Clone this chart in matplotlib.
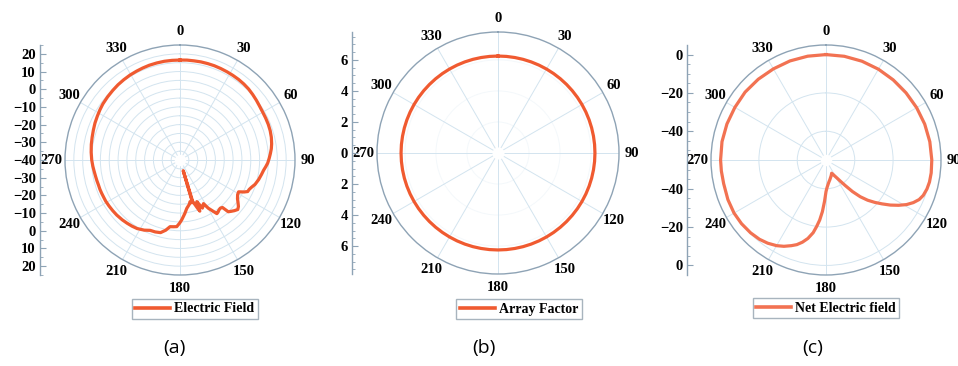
import numpy as np
import matplotlib
matplotlib.use("Agg")
import matplotlib.pyplot as plt
from matplotlib.lines import Line2D

plt.rcParams["font.family"] = ["Liberation Serif", "DejaVu Serif"]
plt.rcParams["font.weight"] = "bold"
plt.rcParams["axes.unicode_minus"] = True

# ---- data -------------------------------------------------------------
# (a) measured electric field pattern (dB)
angle_a = [0, 4, 8, 12, 16, 20, 24, 28, 32, 36, 40, 44, 48, 52, 56, 60, 64, 68,
           72, 76, 80, 83, 86, 89, 92, 94.5, 97, 100, 104, 108, 111, 113, 115,
           116.5, 118.5, 121, 124, 126, 128.5, 130.6, 133, 135, 137, 138.2, 140,
           142, 144, 145.5, 147.5, 149.6, 151.7, 153.5, 155, 156.5, 158, 158.8,
           160, 161.5, 163, 163.3, 163.7, 165, 166.5, 168, 170, 172, 175, 178.4,
           180.5, 182.8, 185.5, 188.5, 191.5, 195, 199, 203, 207, 212, 216, 220,
           224, 229, 233, 237, 241, 244, 247, 250, 253, 256, 259, 263, 266, 270,
           275, 280, 284.5, 289, 293.5, 298, 302, 306, 311, 316, 320.5, 325,
           329.5, 334, 338, 342, 346.5, 351, 355.5, 360]
field_a = [16.5, 16.6, 16.6, 16.7, 16.7, 16.7, 16.6, 16.5, 16.4, 16.3, 16.1, 15.8,
           15.3, 14.8, 14.3, 14.0, 13.9, 13.8, 13.6, 13.2, 12.6, 12.0, 11.2, 10.4,
           9.6, 8.6, 7.6, 6.8, 5.8, 4.6, 3.2, 2.5, 2.2, 0.5, -2.3, -2.0, -0.8, 0.5,
           2.2, 3.0, 2.0, 1.0, 0.0, -4.0, -4.5, -4.2, -3.5, -3.2, -6.0, -8.4, -12.0,
           -11.0, -10.0, -12.5, -14.6, -9.0, -11.0, -13.5, -15.5, -33.7, -15.0,
           -15.0, -15.8, -14.5, -13.5, -12.4, -9.5, -6.1, -4.2, -2.3, -2.1, -1.9,
           0.5, 2.5, 3.0, 3.2, 4.5, 5.7, 6.2, 6.6, 7.0, 7.4, 7.6, 7.8, 8.0, 8.0,
           8.1, 8.2, 8.2, 8.4, 8.6, 9.0, 9.4, 9.9, 10.4, 10.9, 11.3, 11.8, 12.4,
           12.9, 13.4, 13.9, 14.3, 14.7, 15.1, 15.4, 15.7, 15.9, 16.1, 16.3, 16.4,
           16.5, 16.5, 16.5]

# (b) array factor (uniform in azimuth)
angle_b = list(range(0, 361, 5))
factor_b = [6.25] * len(angle_b)

# (c) net electric field (dB)
angle_c = [0, 10, 20, 30, 40, 50, 60, 70, 80, 90, 97, 102, 106, 110, 113, 116,
           119, 122, 125, 128, 131, 134, 137, 140, 143, 146, 149, 152, 155, 157,
           160, 163, 166, 169, 172, 175, 178, 180, 182, 184, 186, 188, 190, 193,
           196, 199, 202, 206, 210, 215, 220, 226, 233, 240, 248, 257, 264, 270,
           280, 290, 300, 310, 320, 330, 340, 350, 360]
field_c = [0.0, -0.05, -0.15, -0.3, -0.45, -0.5, -0.4, -0.2, 0.0, 0.2, 0.3, 0.2,
           -0.2, -1.0, -2.2, -4.3, -7.0, -10.4, -14.0, -17.8, -21.3, -24.8, -28.8,
           -33.5, -38.3, -41.8, -44.2, -45.8, -47.0, -47.5, -46.8, -46.1, -45.4,
           -44.5, -43.6, -42.3, -40.5, -38.5, -33.5, -28.0, -23.5, -20.0, -16.5,
           -13.0, -10.4, -8.3, -6.8, -4.9, -3.4, -2.0, -1.0, -0.3, 0.2, 0.4, 0.2,
           -0.2, -0.1, 0.0, 0.1, 0.0, -0.1, 0.1, 0.0, -0.1, 0.0, 0.0, 0.0]

theta_ticks = list(range(0, 360, 30))

# ---- styling ------------------------------------------------------------
W, H = 958, 366
LINE = "#f05a30"
GRID = "#d3e4ef"
RIM = "#8ea3b5"

fig = plt.figure(figsize=(W / 100, H / 100), dpi=100)


def fx(px):
    return px / W


def fy(py):
    return 1 - py / H


def fmt(v):
    s = f"{abs(v):g}"
    return ("\u2212" + s) if v < 0 else s


def panel(cx, cy, R, rmin, rmax, circles, theta, vals, color, label,
          axis_x, major, minor, show_center_label, leg_xy, cap_xy, cap,
          circle_alpha=1.0):
    ax = fig.add_axes([fx(cx - R), fy(cy + R), 2 * R / W, 2 * R / H],
                      projection="polar")
    ax.set_theta_zero_location("N")
    ax.set_theta_direction(-1)
    ax.set_ylim(rmin, rmax)
    ax.set_rgrids(circles, labels=[""] * len(circles))
    ax.set_thetagrids(theta_ticks, labels=[str(t) for t in theta_ticks])
    ax.tick_params(axis="x", pad=-1, labelsize=10.5)
    ax.xaxis.grid(True, color=GRID, lw=0.7)
    ax.yaxis.grid(True, color=GRID, lw=0.7, alpha=circle_alpha)
    ax.spines["polar"].set_color(RIM)
    ax.spines["polar"].set_linewidth(1.0)
    # blank disc at the pole
    tt = np.linspace(0, 2 * np.pi, 200)
    ax.fill_between(tt, rmin, rmin + (rmax - rmin) * 0.05, color="white",
                    zorder=2, lw=0)
    ax.plot(np.deg2rad(theta), vals, color=color, lw=2.3, zorder=3,
            solid_joinstyle="round")

    # separate mirrored radial scale
    span = rmax - rmin
    sa = fig.add_axes([fx(axis_x), fy(cy + R), 0.02, 2 * R / H])
    sa.set_ylim(-span, span)
    sa.set_xlim(0, 1)
    sa.patch.set_alpha(0)
    for s in ("top", "right", "bottom"):
        sa.spines[s].set_visible(False)
    sa.spines["left"].set_color(RIM)
    sa.spines["left"].set_linewidth(1.0)
    sa.set_xticks([])
    pos, lab = [], []
    for v in major:
        d = v - rmin
        if d == 0:
            pos.append(0.0)
            lab.append(fmt(v) if show_center_label else "")
        else:
            pos += [d, -d]
            lab += [fmt(v), fmt(v)]
    sa.set_yticks(pos, labels=lab)
    mpos = []
    for v in minor:
        d = v - rmin
        if 0 < d <= span:
            mpos += [d, -d]
    sa.set_yticks(mpos, minor=True)
    sa.tick_params(axis="y", which="major", direction="in", length=4,
                   color=RIM, pad=3, labelsize=10.5)
    sa.tick_params(axis="y", which="minor", direction="in", length=2.5,
                   color=RIM)

    h = Line2D([], [], color=color, lw=2.6)
    fig.legend(handles=[h], labels=[label], loc="center",
               bbox_to_anchor=(fx(leg_xy[0]), fy(leg_xy[1])),
               frameon=True, fancybox=False, edgecolor="#a8b4be",
               framealpha=1, borderpad=0.25, handlelength=2.5,
               handletextpad=0.3, borderaxespad=0,
               prop=dict(family="Liberation Serif", weight="bold", size=10))
    fig.text(fx(cap_xy[0]), fy(cap_xy[1]), cap, ha="center", va="center",
             fontsize=14, family="Open Sans", weight="normal")
    return ax


panel(180, 160, 115, -40, 25, list(range(-35, 25, 5)), angle_a, field_a, LINE,
      "Electric Field", 40, list(range(-40, 21, 10)), list(range(-35, 26, 5)),
      True, (195, 309), (174, 348), "(a)")

panel(498, 153, 121, 0, 7.8, [2, 4, 6], angle_b, factor_b, LINE,
      "Array Factor", 352, [0, 2, 4, 6], list(np.arange(0.5, 7.8, 0.5)),
      True, (519, 309), (484, 348), "(b)", circle_alpha=0.25)

panel(826, 160, 115, -55, 5, [-40, -20, 0], angle_c, field_c, "#f27252",
      "Net Electric field", 687, [0, -20, -40], list(range(-50, 5, 5)),
      False, (826, 308), (813, 348), "(c)")

fig.savefig("out.png", dpi=100, facecolor="white")
